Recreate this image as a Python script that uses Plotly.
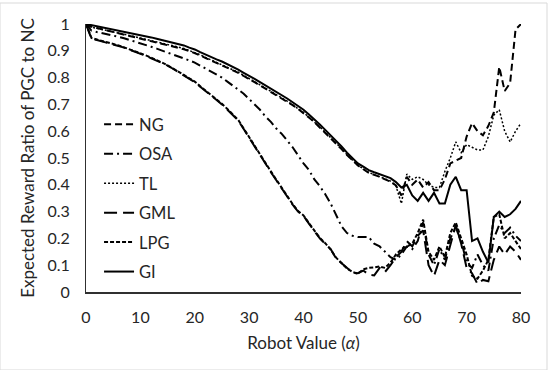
import plotly.graph_objects as go

x_vals = list(range(0, 81))

NG = [1.000, 0.990, 0.985, 0.980, 0.975, 0.970, 0.965, 0.960, 0.955, 0.951, 0.947,
      0.942, 0.937, 0.932, 0.927, 0.922, 0.917, 0.912, 0.906, 0.899, 0.892,
      0.883, 0.873, 0.864, 0.856, 0.848, 0.838, 0.828, 0.818, 0.806, 0.793,
      0.783, 0.771, 0.759, 0.748, 0.736, 0.724, 0.711, 0.697, 0.683, 0.668,
      0.651, 0.634, 0.614, 0.595, 0.574, 0.555, 0.533, 0.511, 0.490, 0.472,
      0.458, 0.445, 0.437, 0.430, 0.420, 0.412, 0.398, 0.360, 0.430, 0.400,
      0.420, 0.390, 0.410, 0.380, 0.380, 0.420, 0.480, 0.490, 0.500, 0.580,
      0.630, 0.600, 0.585, 0.620, 0.670, 0.840, 0.750, 0.780, 0.980, 1.000]

OSA = [1.000, 0.975, 0.970, 0.966, 0.962, 0.957, 0.952, 0.947, 0.941, 0.935, 0.929,
       0.922, 0.915, 0.908, 0.901, 0.894, 0.887, 0.880, 0.872, 0.864, 0.856,
       0.845, 0.835, 0.825, 0.812, 0.800, 0.785, 0.770, 0.755, 0.740, 0.720,
       0.700, 0.680, 0.655, 0.635, 0.610, 0.590, 0.565, 0.540, 0.510, 0.480,
       0.455, 0.420, 0.395, 0.365, 0.330, 0.290, 0.245, 0.220, 0.210, 0.205,
       0.205, 0.205, 0.180, 0.170, 0.150, 0.130, 0.120, 0.140, 0.170, 0.160,
       0.190, 0.260, 0.140, 0.100, 0.160, 0.120, 0.200, 0.240, 0.190, 0.110,
       0.090, 0.140, 0.100, 0.080, 0.200, 0.250, 0.220, 0.240, 0.210, 0.190]

TL = [1.000, 0.988, 0.984, 0.979, 0.975, 0.970, 0.966, 0.962, 0.957, 0.953, 0.949,
      0.944, 0.939, 0.934, 0.929, 0.924, 0.919, 0.914, 0.909, 0.901, 0.894,
      0.885, 0.875, 0.866, 0.858, 0.850, 0.841, 0.831, 0.820, 0.808, 0.795,
      0.785, 0.773, 0.761, 0.750, 0.738, 0.726, 0.712, 0.698, 0.684, 0.670,
      0.652, 0.635, 0.616, 0.596, 0.576, 0.556, 0.535, 0.512, 0.492, 0.473,
      0.460, 0.446, 0.438, 0.430, 0.422, 0.414, 0.396, 0.330, 0.440, 0.420,
      0.430, 0.420, 0.400, 0.390, 0.390, 0.450, 0.500, 0.560, 0.520, 0.550,
      0.540, 0.530, 0.530, 0.580, 0.660, 0.680, 0.600, 0.560, 0.600, 0.630]

GML = [1.000, 0.945, 0.940, 0.935, 0.930, 0.924, 0.918, 0.912, 0.905, 0.898, 0.890,
       0.881, 0.872, 0.864, 0.855, 0.845, 0.833, 0.820, 0.808, 0.796, 0.783,
       0.766, 0.750, 0.733, 0.716, 0.700, 0.680, 0.661, 0.640, 0.608, 0.575,
       0.545, 0.512, 0.480, 0.447, 0.417, 0.385, 0.355, 0.326, 0.300, 0.284,
       0.255, 0.225, 0.200, 0.180, 0.160, 0.125, 0.108, 0.090, 0.072, 0.070,
       0.080, 0.065, 0.062, 0.090, 0.075, 0.100, 0.130, 0.150, 0.190, 0.170,
       0.210, 0.230, 0.100, 0.060, 0.120, 0.100, 0.180, 0.250, 0.180, 0.090,
       0.070, 0.030, 0.045, 0.040, 0.120, 0.170, 0.140, 0.170, 0.150, 0.120]

LPG = [1.000, 0.948, 0.942, 0.937, 0.932, 0.926, 0.920, 0.913, 0.906, 0.899, 0.891,
       0.883, 0.874, 0.866, 0.856, 0.846, 0.835, 0.822, 0.810, 0.797, 0.785,
       0.768, 0.752, 0.735, 0.718, 0.702, 0.683, 0.663, 0.642, 0.610, 0.577,
       0.547, 0.515, 0.482, 0.450, 0.419, 0.387, 0.357, 0.328, 0.302, 0.286,
       0.257, 0.228, 0.202, 0.182, 0.158, 0.128, 0.106, 0.088, 0.075, 0.068,
       0.085, 0.090, 0.092, 0.095, 0.090, 0.110, 0.140, 0.160, 0.170, 0.180,
       0.220, 0.270, 0.150, 0.120, 0.170, 0.130, 0.220, 0.260, 0.200, 0.140,
       0.060, 0.050, 0.080, 0.120, 0.280, 0.290, 0.200, 0.220, 0.190, 0.160]

GI = [1.000, 0.996, 0.991, 0.987, 0.983, 0.979, 0.976, 0.972, 0.968, 0.964, 0.960,
      0.955, 0.950, 0.945, 0.940, 0.935, 0.930, 0.925, 0.920, 0.912, 0.905,
      0.895, 0.885, 0.876, 0.868, 0.860, 0.851, 0.841, 0.830, 0.818, 0.805,
      0.795, 0.783, 0.771, 0.760, 0.748, 0.736, 0.722, 0.708, 0.694, 0.680,
      0.662, 0.645, 0.625, 0.605, 0.585, 0.565, 0.543, 0.520, 0.500, 0.480,
      0.468, 0.455, 0.447, 0.440, 0.432, 0.425, 0.410, 0.390, 0.400, 0.360,
      0.340, 0.370, 0.340, 0.370, 0.330, 0.330, 0.400, 0.430, 0.380, 0.380,
      0.190, 0.200, 0.150, 0.110, 0.280, 0.300, 0.280, 0.290, 0.310, 0.340]

y_ticks = [0, 0.1, 0.2, 0.3, 0.4, 0.5, 0.6, 0.7, 0.8, 0.9, 1]
y_tick_text = ["0", "0.1", "0.2", "0.3", "0.4", "0.5", "0.6", "0.7", "0.8", "0.9", "1"]
x_ticks = [0, 10, 20, 30, 40, 50, 60, 70, 80]

series = [
    ("NG", NG, "7px,4px", 2),
    ("OSA", OSA, "9px,4px,2px,4px", 2),
    ("TL", TL, "2px,2px", 1.5),
    ("GML", GML, "13px,6px", 2),
    ("LPG", LPG, "4px,2px", 2),
    ("GI", GI, "solid", 2),
]

FONT = "Lato"
TXT = "#262626"

fig = go.Figure()
for i, (name, vals, dash, w) in enumerate(series):
    fig.add_trace(go.Scatter(
        x=x_vals, y=vals, mode="lines", name=name,
        legendgroup=str(i),
        line=dict(color="black", width=w, dash=dash),
    ))

fig.update_layout(
    width=550, height=370,
    margin=dict(l=86, r=29, t=24, b=78),
    paper_bgcolor="white", plot_bgcolor="white",
    font=dict(family=FONT, size=16, color=TXT),
    showlegend=True,
    legend=dict(
        x=0.03, y=0.69, xanchor="left", yanchor="top",
        font=dict(family=FONT, size=16.5, color=TXT),
        bgcolor="rgba(0,0,0,0)",
        tracegroupgap=5, traceorder="grouped",
        itemwidth=30,
    ),
    xaxis=dict(
        range=[0, 80], tickvals=x_ticks, showgrid=False, zeroline=False,
        showline=True, linecolor="#303030", linewidth=1.5,
        ticks="", ticklabelstandoff=10,
        title=dict(text="Robot Value (<i>α</i>)", font=dict(family=FONT, size=17, color=TXT), standoff=12),
    ),
    yaxis=dict(
        range=[0, 1], tickvals=y_ticks, ticktext=y_tick_text, showgrid=False, zeroline=False,
        showline=True, linecolor="#303030", linewidth=1,
        ticks="", ticklabelstandoff=12,
        title=dict(text="Expected Reward Ratio of PGC to NC", font=dict(family=FONT, size=17, color=TXT), standoff=8),
    ),
    shapes=[dict(
        type="rect", xref="paper", yref="paper",
        x0=-86/435, x1=(547-86)/435, y0=-78/268, y1=(292-3)/268,
        line=dict(color="#d9d9d9", width=1), fillcolor="rgba(0,0,0,0)", layer="below",
    )],
)

fig.write_html("out.html")
